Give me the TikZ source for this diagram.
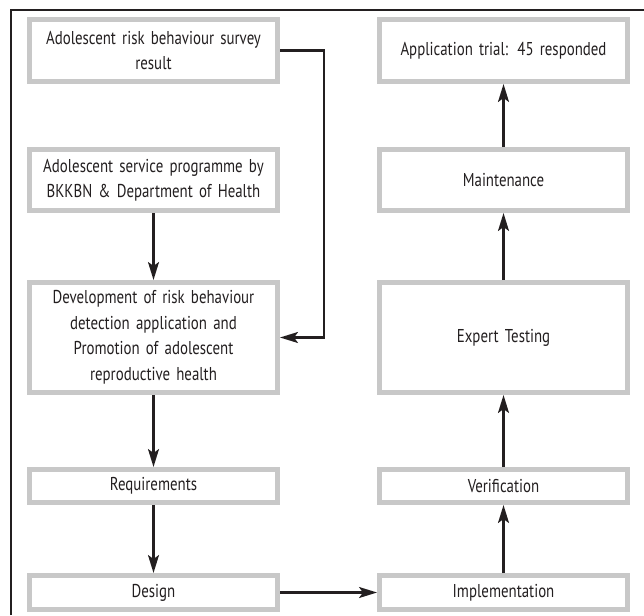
\documentclass[tikz,border=0pt]{standalone}
\usepackage{fontspec}
\setmainfont{PT Sans}[FakeStretch=0.8,WordSpace=0.7]
\usetikzlibrary{arrows.meta}
\definecolor{marco}{RGB}{200,200,200}
\definecolor{tinta}{RGB}{35,31,32}
\begin{document}
\begin{tikzpicture}[x=1pt,y=-1pt,
	caja/.style={draw=marco,line width=5pt,fill=white,inner sep=0pt,
		minimum width=248pt,text width=244pt,align=center,text=tinta,
		font=\fontsize{18.6}{25.5}\selectfont},
	flecha/.style={draw=tinta,line width=2.2pt,-{Stealth[length=18pt,width=11pt,inset=4pt]}}]
	\useasboundingbox (0,0) rectangle (644,615);
	%Marco
	\draw[line width=1.2pt,tinta] (11,615) -- (11,10) -- (644,10);
	%Columna izquierda
	\node[caja,minimum height=62pt] (survey) at (153.5,50.5) {Adolescent risk behaviour survey\\result};
	\node[caja,minimum height=61pt] (service) at (153.5,180) {Adolescent service programme by\\BKKBN \& Department of Health};
	\node[caja,minimum height=110pt] (develop) at (153.5,337.5) {Development of risk behaviour\\detection application and\\Promotion of adolescent\\reproductive health};
	\node[caja,minimum height=33pt] (require) at (153.5,486) {Requirements};
	\node[caja,minimum height=34pt] (design) at (153.5,592.5) {Design};
	%Columna derecha
	\node[caja,minimum height=62pt] (trial) at (503.5,50.5) {Application trial: 45 responded};
	\node[caja,minimum height=61pt] (maint) at (503.5,180) {Maintenance};
	\node[caja,minimum height=110pt] (expert) at (503.5,337.5) {Expert Testing};
	\node[caja,minimum height=33pt] (verif) at (503.5,486) {Verification};
	\node[caja,minimum height=34pt] (implem) at (503.5,592.5) {Implementation};
	%Flechas
	\draw[flecha] (survey.east) -- ++(44,0) |- (develop.east);
	\draw[flecha] (service) -- (develop);
	\draw[flecha] (develop) -- (require);
	\draw[flecha] (require) -- (design);
	\draw[flecha] (design) -- (implem);
	\draw[flecha] (implem) -- (verif);
	\draw[flecha] (verif) -- (expert);
	\draw[flecha] (expert) -- (maint);
	\draw[flecha] (maint) -- (trial);
\end{tikzpicture}
\end{document}
